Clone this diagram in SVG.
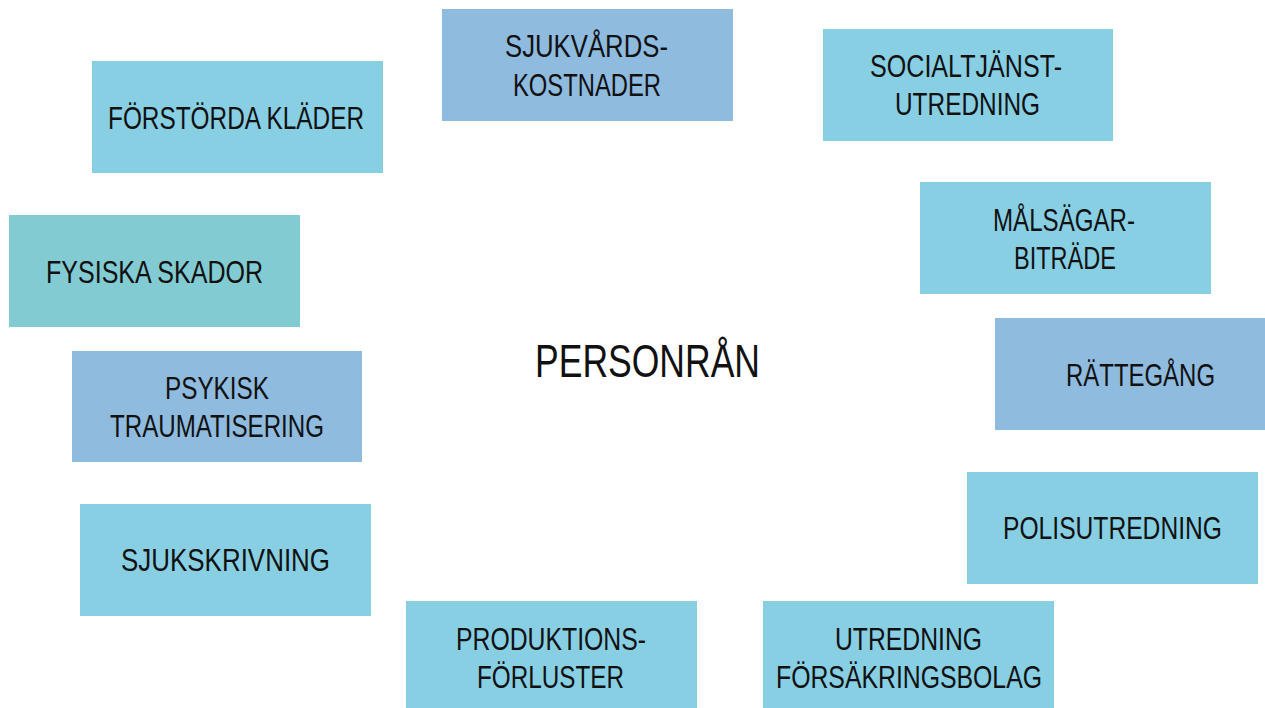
<svg xmlns="http://www.w3.org/2000/svg" width="1265" height="708" viewBox="0 0 1265 708">
<style>
.b{fill:#88CFE4}
.d{fill:#8FBBDF}
.t{fill:#82CBD3}
text{font-family:"Liberation Sans","DejaVu Sans",sans-serif;font-size:32px;fill:#111;}
.c{font-size:46px}
</style>
<rect width="1265" height="708" fill="#fff"/>
<g id="connectors"></g>
<g id="n-center"><text class="c" x="535" y="377" textLength="225" lengthAdjust="spacingAndGlyphs">PERSONRÅN</text></g>
<g id="n-klader"><rect class="b" x="92" y="61" width="291" height="112"/><text x="108" y="129" textLength="256" lengthAdjust="spacingAndGlyphs">FÖRSTÖRDA KLÄDER</text></g>
<g id="n-skador"><rect class="t" x="9" y="215" width="291" height="112"/><text x="46" y="283" textLength="217" lengthAdjust="spacingAndGlyphs">FYSISKA SKADOR</text></g>
<g id="n-sjukvard"><rect class="d" x="442" y="9" width="291" height="112"/><text x="505" y="57" textLength="163" lengthAdjust="spacingAndGlyphs">SJUKVÅRDS-</text><text x="513" y="96" textLength="148" lengthAdjust="spacingAndGlyphs">KOSTNADER</text></g>
<g id="n-social"><rect class="b" x="823" y="29" width="290" height="112"/><text x="870" y="77" textLength="192" lengthAdjust="spacingAndGlyphs">SOCIALTJÄNST-</text><text x="895" y="115" textLength="145" lengthAdjust="spacingAndGlyphs">UTREDNING</text></g>
<g id="n-malsagar"><rect class="b" x="920" y="182" width="291" height="112"/><text x="993" y="231" textLength="142" lengthAdjust="spacingAndGlyphs">MÅLSÄGAR-</text><text x="1014" y="269" textLength="102" lengthAdjust="spacingAndGlyphs">BITRÄDE</text></g>
<g id="n-rattegang"><rect class="d" x="995" y="318" width="270" height="112"/><text x="1066" y="386" textLength="149" lengthAdjust="spacingAndGlyphs">RÄTTEGÅNG</text></g>
<g id="n-psykisk"><rect class="d" x="72" y="351" width="290" height="111"/><text x="165" y="399" textLength="104" lengthAdjust="spacingAndGlyphs">PSYKISK</text><text x="110" y="437" textLength="214" lengthAdjust="spacingAndGlyphs">TRAUMATISERING</text></g>
<g id="n-sjukskrivning"><rect class="b" x="80" y="504" width="291" height="112"/><text x="121" y="571" textLength="209" lengthAdjust="spacingAndGlyphs">SJUKSKRIVNING</text></g>
<g id="n-polis"><rect class="b" x="967" y="472" width="291" height="112"/><text x="1003" y="539" textLength="219" lengthAdjust="spacingAndGlyphs">POLISUTREDNING</text></g>
<g id="n-produktion"><rect class="b" x="406" y="601" width="291" height="107"/><text x="456" y="650" textLength="190" lengthAdjust="spacingAndGlyphs">PRODUKTIONS-</text><text x="477" y="688" textLength="147" lengthAdjust="spacingAndGlyphs">FÖRLUSTER</text></g>
<g id="n-forsakring"><rect class="b" x="763" y="601" width="291" height="107"/><text x="835" y="650" textLength="147" lengthAdjust="spacingAndGlyphs">UTREDNING</text><text x="776" y="688" textLength="266" lengthAdjust="spacingAndGlyphs">FÖRSÄKRINGSBOLAG</text></g>
</svg>
